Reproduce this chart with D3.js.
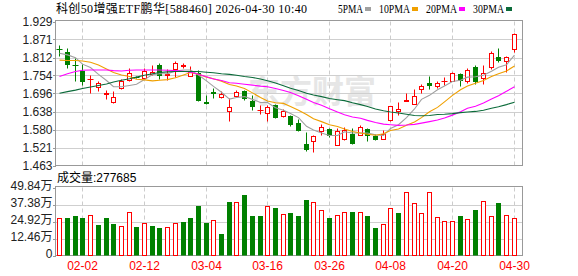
<!DOCTYPE html>
<html>
<head>
<meta charset="utf-8">
<script src="https://cdn.jsdelivr.net/npm/d3@7"></script>
<style>
body { margin: 0; background: #fff; }
svg { display: block; }
</style>
</head>
<body>
<svg width="578" height="276"></svg>
<script>
var dates = ["01-28","01-29","01-30","02-02","02-03","02-04","02-05","02-06","02-09","02-10",
  "02-11","02-12","02-13","02-24","02-25","02-26","02-27","03-02","03-03","03-04",
  "03-05","03-06","03-09","03-10","03-11","03-12","03-13","03-16","03-17","03-18",
  "03-19","03-20","03-23","03-24","03-25","03-26","03-27","03-30","03-31","04-01",
  "04-02","04-03","04-07","04-08","04-09","04-10","04-13","04-14","04-15","04-16",
  "04-17","04-20","04-21","04-22","04-23","04-24","04-27","04-28","04-29","04-30"];
var open = [1.841,1.830,1.789,1.770,1.742,1.717,1.694,1.670,1.713,1.739,
  1.751,1.746,1.758,1.789,1.757,1.776,1.785,1.753,1.762,1.667,
  1.701,1.684,1.638,1.688,1.705,1.673,1.642,1.632,1.660,1.622,
  1.622,1.599,1.534,1.542,1.574,1.581,1.529,1.549,1.565,1.563,
  1.581,1.558,1.550,1.611,1.638,1.673,1.662,1.710,1.729,1.719,
  1.736,1.738,1.759,1.735,1.781,1.746,1.781,1.815,1.802,1.839];
var high = [1.853,1.842,1.810,1.791,1.756,1.735,1.708,1.705,1.742,1.777,
  1.753,1.779,1.788,1.794,1.775,1.801,1.796,1.785,1.772,1.692,
  1.715,1.705,1.681,1.706,1.706,1.692,1.660,1.660,1.662,1.646,
  1.627,1.614,1.571,1.561,1.596,1.584,1.585,1.588,1.585,1.593,
  1.585,1.566,1.579,1.657,1.668,1.697,1.711,1.727,1.753,1.737,
  1.749,1.765,1.762,1.778,1.788,1.788,1.833,1.844,1.817,1.892];
var low = [1.818,1.780,1.738,1.724,1.699,1.705,1.679,1.665,1.710,1.738,
  1.745,1.745,1.757,1.743,1.740,1.750,1.778,1.752,1.672,1.662,
  1.681,1.683,1.608,1.685,1.676,1.644,1.631,1.608,1.618,1.619,
  1.592,1.576,1.509,1.507,1.563,1.554,1.528,1.545,1.533,1.562,
  1.542,1.544,1.549,1.608,1.627,1.672,1.661,1.699,1.711,1.715,
  1.724,1.737,1.719,1.731,1.726,1.726,1.776,1.799,1.765,1.831];
var close = [1.839,1.793,1.787,1.735,1.744,1.729,1.697,1.685,1.737,1.762,
  1.749,1.770,1.765,1.756,1.759,1.794,1.787,1.765,1.676,1.665,
  1.699,1.695,1.652,1.702,1.681,1.654,1.644,1.651,1.620,1.640,
  1.598,1.579,1.515,1.560,1.587,1.561,1.576,1.578,1.536,1.588,
  1.561,1.549,1.565,1.654,1.646,1.675,1.689,1.721,1.722,1.731,
  1.738,1.762,1.740,1.772,1.738,1.762,1.826,1.804,1.815,1.890];
var prevClose = 1.80;
// volume in 万
var volume = [27.7,27.7,29.1,27.2,29.8,22.1,27.7,22.8,21.9,31.7,
  21.2,24.0,21.9,20.4,20.9,24.0,24.8,27.7,36.6,23.5,
  25.9,15.6,39.5,39.3,44.6,28.6,29.1,36.4,35.1,30.6,
  31.5,28.6,40.9,39.3,33.5,27.2,29.8,32.0,32.0,32.0,
  28.6,19.9,23.3,34.9,31.5,46.5,38.5,31.3,46.5,28.4,
  25.5,25.5,29.3,26.9,33.7,40.0,29.1,38.8,29.8,27.7685];
var ma5 = [1.826,1.821,1.812,1.791,1.780,1.758,1.738,1.718,1.718,1.722,
  1.726,1.741,1.757,1.760,1.760,1.769,1.772,1.772,1.756,1.737,
  1.719,1.700,1.678,1.683,1.686,1.677,1.667,1.667,1.650,1.642,
  1.631,1.618,1.590,1.578,1.568,1.560,1.560,1.572,1.568,1.568,
  1.568,1.562,1.560,1.583,1.595,1.618,1.646,1.677,1.690,1.708,
  1.720,1.735,1.739,1.749,1.750,1.755,1.768,1.781,1.789,1.820];
var ma10 = [1.804,1.803,1.803,1.801,1.797,1.788,1.775,1.764,1.756,1.751,
  1.742,1.740,1.737,1.739,1.741,1.747,1.756,1.764,1.758,1.749,
  1.744,1.736,1.725,1.720,1.712,1.698,1.683,1.672,1.666,1.664,
  1.654,1.642,1.628,1.614,1.605,1.595,1.589,1.581,1.573,1.568,
  1.564,1.561,1.566,1.576,1.581,1.593,1.604,1.618,1.637,1.651,
  1.669,1.690,1.708,1.720,1.729,1.738,1.751,1.760,1.769,1.785];
var ma20 = [1.751,1.760,1.767,1.771,1.772,1.772,1.772,1.770,1.769,1.771,
  1.772,1.772,1.772,1.772,1.771,1.770,1.768,1.765,1.758,1.750,
  1.743,1.738,1.731,1.729,1.726,1.723,1.720,1.718,1.712,1.706,
  1.699,1.689,1.677,1.667,1.658,1.647,1.636,1.627,1.620,1.616,
  1.609,1.602,1.597,1.595,1.593,1.594,1.596,1.600,1.605,1.610,
  1.617,1.626,1.637,1.648,1.655,1.665,1.678,1.689,1.703,1.718];
var ma30 = [1.697,1.702,1.707,1.712,1.717,1.722,1.727,1.733,1.739,1.744,
  1.749,1.755,1.760,1.764,1.766,1.767,1.767,1.767,1.767,1.765,
  1.763,1.760,1.758,1.755,1.751,1.748,1.743,1.737,1.730,1.721,
  1.713,1.706,1.697,1.691,1.686,1.680,1.676,1.673,1.666,1.660,
  1.654,1.646,1.640,1.636,1.633,1.629,1.625,1.624,1.625,1.628,
  1.629,1.631,1.634,1.636,1.638,1.642,1.648,1.653,1.660,1.668];

var priceTicks = ["1.463","1.521","1.580","1.638","1.696","1.754","1.812","1.871","1.929"];
var volTicks = ["0","12.46万","24.92万","37.38万","49.84万"];
var dateTicks = ["02-02","02-12","03-04","03-16","03-26","04-08","04-20","04-30"];
var maNames = ["5PMA","10PMA","20PMA","30PMA"];
var maColors = ["#a0a0a0","#f0a000","#ff00ff","#0b6b3a"];
var maSeries = [ma5, ma10, ma20, ma30];

var RED = "#ff0000", GREEN = "#008000";
var sansFont = "'Liberation Sans', Arial, 'Noto Sans CJK SC', sans-serif";
var serifFont = "'Liberation Serif', 'Noto Sans CJK SC', serif";

var svg = d3.select("svg");
var n = dates.length;
var left = 56, right = 522;
var pTop = 21.5, pBot = 165.5, vTop = 187.5, vBot = 255.5;

var x = d3.scaleBand().domain(d3.range(n)).range([left, 518]);
var y = d3.scaleLinear().domain([1.463, 1.929]).range([pBot, pTop]);
var vy = d3.scaleLinear().domain([0, 49.84]).range([vBot, vTop]);

function cx(i) { return Math.floor(x(i) + x.bandwidth() / 2) + 0.5; }
function py(v) { return Math.round(y(v)) + 0.5; }
function isUp(i) { return close[i] >= (i ? close[i - 1] : prevClose); }
function candleUp(i) { return close[i] === open[i] ? isUp(i) : close[i] > open[i]; }

// watermark
svg.append("text")
    .attr("x", 248).attr("y", 103)
    .style("font-family", "'Noto Sans CJK SC', sans-serif")
    .style("font-size", "32px").style("font-weight", "bold")
    .style("fill", "#e6e6e6")
    .text("东方财富");

// grid
var priceVals = priceTicks.map(function(d, k) { return 1.463 + k * (1.929 - 1.463) / 8; });
var volVals = d3.range(5).map(function(k) { return k * 49.84 / 4; });

svg.append("g").selectAll("line").data(priceVals.slice(1, 8)).enter().append("line")
    .attr("x1", left).attr("x2", right)
    .attr("y1", function(d) { return Math.round(y(d)) + 0.5; })
    .attr("y2", function(d) { return Math.round(y(d)) + 0.5; })
    .style("stroke", "#cfcfcf");
svg.append("g").selectAll("line").data(volVals.slice(1, 4)).enter().append("line")
    .attr("x1", left).attr("x2", right)
    .attr("y1", function(d) { return Math.round(vy(d)) + 0.5; })
    .attr("y2", function(d) { return Math.round(vy(d)) + 0.5; })
    .style("stroke", "#cfcfcf");

var tickIdx = dateTicks.map(function(d) { return dates.indexOf(d); });
[[pTop, pBot], [vTop, vBot]].forEach(function(r) {
  svg.append("g").selectAll("line").data(tickIdx).enter().append("line")
      .attr("x1", cx).attr("x2", cx)
      .attr("y1", r[0]).attr("y2", r[1])
      .style("stroke", "#cccccc")
      .style("stroke-dasharray", "4,3");
});

// frames
svg.append("rect").attr("x", left - 0.5).attr("y", pTop - 1).attr("width", right - left + 1).attr("height", pBot - pTop + 1)
    .style("fill", "none").style("stroke", "#999");
svg.append("rect").attr("x", left - 0.5).attr("y", vTop - 1).attr("width", right - left + 1).attr("height", vBot - vTop + 1)
    .style("fill", "none").style("stroke", "#999");

// y labels
var yl = svg.append("g").style("font-family", sansFont).style("font-size", "12px").style("fill", "#222");
yl.selectAll("text.p").data(priceTicks).enter().append("text")
    .attr("x", 52.5)
    .attr("y", function(d, k) { return y(priceVals[k]) + 4.5; })
    .attr("text-anchor", "end")
    .text(function(d) { return d; });
yl.selectAll("text.v").data(volTicks).enter().append("text")
    .attr("x", 52.5)
    .attr("y", function(d, k) { return vy(volVals[k]) + 2.5; })
    .attr("text-anchor", "end")
    .text(function(d) { return d; });
svg.append("g").selectAll("line").data(priceVals.map(y).concat(volVals.map(vy))).enter().append("line")
    .attr("x1", 53).attr("x2", left)
    .attr("y1", function(d) { return Math.round(d) + 0.5; })
    .attr("y2", function(d) { return Math.round(d) + 0.5; })
    .style("stroke", "#999");

// x labels
svg.append("g").selectAll("text").data(dateTicks).enter().append("text")
    .attr("x", function(d, k) { return cx(tickIdx[k]); })
    .attr("y", 270)
    .attr("text-anchor", "middle")
    .style("font-family", sansFont).style("font-size", "12px")
    .style("fill", RED)
    .text(function(d) { return d; });

// candles
var cg = svg.append("g");
d3.range(n).forEach(function(i) {
  var c = cx(i), up = candleUp(i), col = up ? RED : GREEN;
  var top = py(Math.max(open[i], close[i])), bot = py(Math.min(open[i], close[i]));
  var hi = py(high[i]), lo = py(low[i]);
  if (bot - top < 1) {
    cg.append("line").attr("x1", c).attr("x2", c).attr("y1", hi).attr("y2", lo).style("stroke", col);
    cg.append("line").attr("x1", c - 3).attr("x2", c + 3).attr("y1", top).attr("y2", top).style("stroke", col);
  } else if (up) {
    cg.append("line").attr("x1", c).attr("x2", c).attr("y1", hi).attr("y2", top).style("stroke", col);
    cg.append("line").attr("x1", c).attr("x2", c).attr("y1", bot).attr("y2", lo).style("stroke", col);
    cg.append("rect").attr("x", c - 2).attr("y", top).attr("width", 4).attr("height", bot - top)
        .style("fill", "#fff").style("stroke", col);
  } else {
    cg.append("line").attr("x1", c).attr("x2", c).attr("y1", hi).attr("y2", lo).style("stroke", col);
    cg.append("rect").attr("x", c - 2.5).attr("y", top - 0.5).attr("width", 5).attr("height", bot - top + 1)
        .style("fill", col);
  }
});

// moving averages
var line = d3.line().x(function(d, i) { return cx(i); }).y(function(d) { return y(d); });
svg.append("g").selectAll("path").data(maSeries).enter().append("path")
    .attr("d", line)
    .style("fill", "none")
    .style("stroke", function(d, k) { return maColors[k]; })
    .style("stroke-width", 1.1);

// volume bars
var vg = svg.append("g");
volume.forEach(function(v, i) {
  var c = cx(i), t = Math.round(vy(v)) + 0.5;
  if (isUp(i)) {
    vg.append("rect").attr("x", c - 2).attr("y", t).attr("width", 4).attr("height", vBot - t)
        .style("fill", "#fff").style("stroke", RED);
  } else {
    vg.append("rect").attr("x", c - 2.5).attr("y", t - 0.5).attr("width", 5).attr("height", vBot - t + 0.5)
        .style("fill", GREEN);
  }
});

// title and legend
svg.append("text").attr("x", 56).attr("y", 13)
    .attr("textLength", 251).attr("lengthAdjust", "spacing")
    .style("font-family", serifFont).style("font-size", "12px").style("fill", "#000")
    .text("科创50增强ETF鹏华[588460] 2026-04-30 10:40");

var lx = 338;
maNames.forEach(function(name, k) {
  var w = name.length * 6 + 1;
  svg.append("text").attr("x", lx).attr("y", 13)
      .attr("textLength", w).attr("lengthAdjust", "spacingAndGlyphs")
      .style("font-family", serifFont).style("font-size", "12px").style("fill", "#000")
      .text(name);
  svg.append("rect").attr("x", lx + w + 2).attr("y", 7).attr("width", 6).attr("height", 4)
      .style("fill", maColors[k]);
  lx += w + 2 + 6 + 8;
});

svg.append("text").attr("x", 57).attr("y", 181.5)
    .style("font-family", sansFont).style("font-size", "12px").style("fill", "#000")
    .text("成交量:" + Math.round(volume[n - 1] * 10000));
</script>
</body>
</html>
